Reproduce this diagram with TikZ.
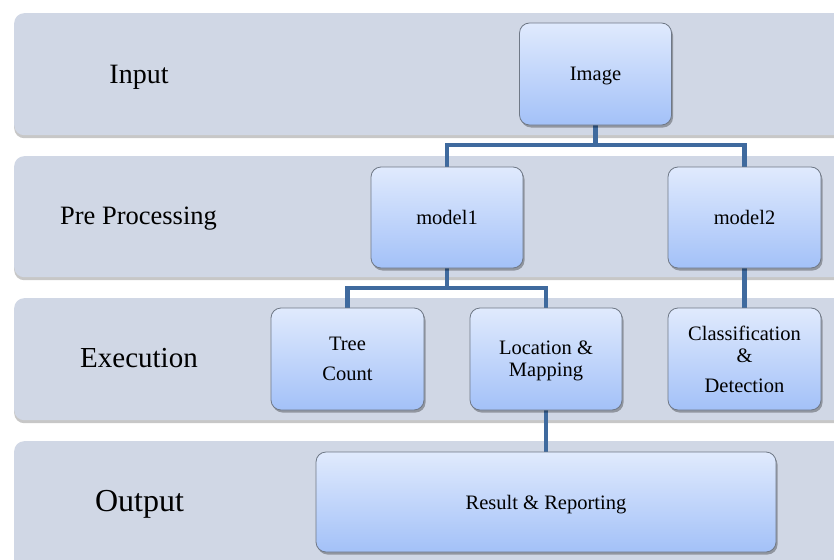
\documentclass[tikz,border=0pt]{standalone}
\usepackage{fontspec}
\setmainfont{Liberation Serif}
\usetikzlibrary{shadows}
\definecolor{bandfill}{HTML}{D0D7E5}
\definecolor{boxtop}{HTML}{E0EAFD}
\definecolor{boxbot}{HTML}{A3C1F8}
\definecolor{boxline}{HTML}{6F7886}
\definecolor{connblue}{HTML}{3F6A9E}
\pgfdeclarelayer{bandlayer}
\pgfdeclarelayer{linelayer}
\pgfsetlayers{bandlayer,linelayer,main}
\tikzset{
  band/.style={fill=bandfill, rounded corners=10pt, draw=none,
    drop shadow={shadow xshift=0pt, shadow yshift=-3pt, opacity=0.22, fill=black}},
  stagebox/.style={draw=boxline, line width=0.8pt, rounded corners=10pt,
    top color=boxtop, bottom color=boxbot, align=center,
    font=\fontsize{20.5}{22}\selectfont, text depth=0pt,
    drop shadow={shadow xshift=1.5pt, shadow yshift=-2.5pt, opacity=0.3, fill=black},
    inner sep=0pt},
  bandlabel/.style={inner sep=0pt, anchor=center, text depth=0pt},
  conn/.style={draw=connblue, line width=4.6pt, line join=miter}
}
\begin{document}
\begin{tikzpicture}[x=1pt,y=-1pt]
\useasboundingbox (0,0) rectangle (834,559);
\begin{pgfonlayer}{bandlayer}
\clip (0,0) rectangle (834,559);
\fill[white] (0,0) rectangle (834,559);
% bands
\node[band, minimum width=850pt, minimum height=122pt, anchor=north west] (b1) at (14,13) {};
\node[band, minimum width=850pt, minimum height=121pt, anchor=north west] (b2) at (14,156) {};
\node[band, minimum width=850pt, minimum height=122pt, anchor=north west] (b3) at (14,298) {};
\node[band, minimum width=850pt, minimum height=150pt, anchor=north west] (b4) at (14,441) {};
\end{pgfonlayer}

% band labels
\node[bandlabel, font=\fontsize{28}{30}\selectfont] (l1) at (139,74) {Input};
\node[bandlabel, font=\fontsize{26.5}{28}\selectfont] (l2) at (138.5,216) {Pre Processing};
\node[bandlabel, font=\fontsize{29}{31}\selectfont] (l3) at (139,358) {Execution};
\node[bandlabel, font=\fontsize{32}{34}\selectfont] (l4) at (139.5,501) {Output};

% boxes
\node[stagebox, minimum width=152pt, minimum height=102pt] (img) at (595.5,74) {Image};
\node[stagebox, minimum width=152pt, minimum height=101pt] (m1) at (447,217.5) {model1};
\node[stagebox, minimum width=153pt, minimum height=101pt] (m2) at (744.5,217.5) {model2};
\node[stagebox, minimum width=153pt, minimum height=102pt] (tc) at (347.5,359) {Tree\\[8pt]Count};
\node[stagebox, minimum width=152pt, minimum height=102pt] (lm) at (546,359) {Location \&\\Mapping};
\node[stagebox, minimum width=153pt, minimum height=102pt] (cd) at (744.5,359) {Classification\\\&\\[8pt]Detection};
\node[stagebox, minimum width=460pt, minimum height=100pt] (rr) at (546,502) {Result \& Reporting};

% connectors
\coordinate (j1) at (595.5,145);
\coordinate (j2) at (447,288);
\begin{pgfonlayer}{linelayer}
\draw[conn] (img.south) -- (j1);
\draw[conn] (m1.north) -- (m1.north |- j1) -- (m2.north |- j1) -- (m2.north);
\draw[conn] (m1.south) -- (j2);
\draw[conn] (tc.north) -- (tc.north |- j2) -- (lm.north |- j2) -- (lm.north);
\draw[conn] (m2.south) -- (cd.north);
\draw[conn] (lm.south) -- (rr.north -| lm.south);
\end{pgfonlayer}
\end{tikzpicture}
\end{document}
